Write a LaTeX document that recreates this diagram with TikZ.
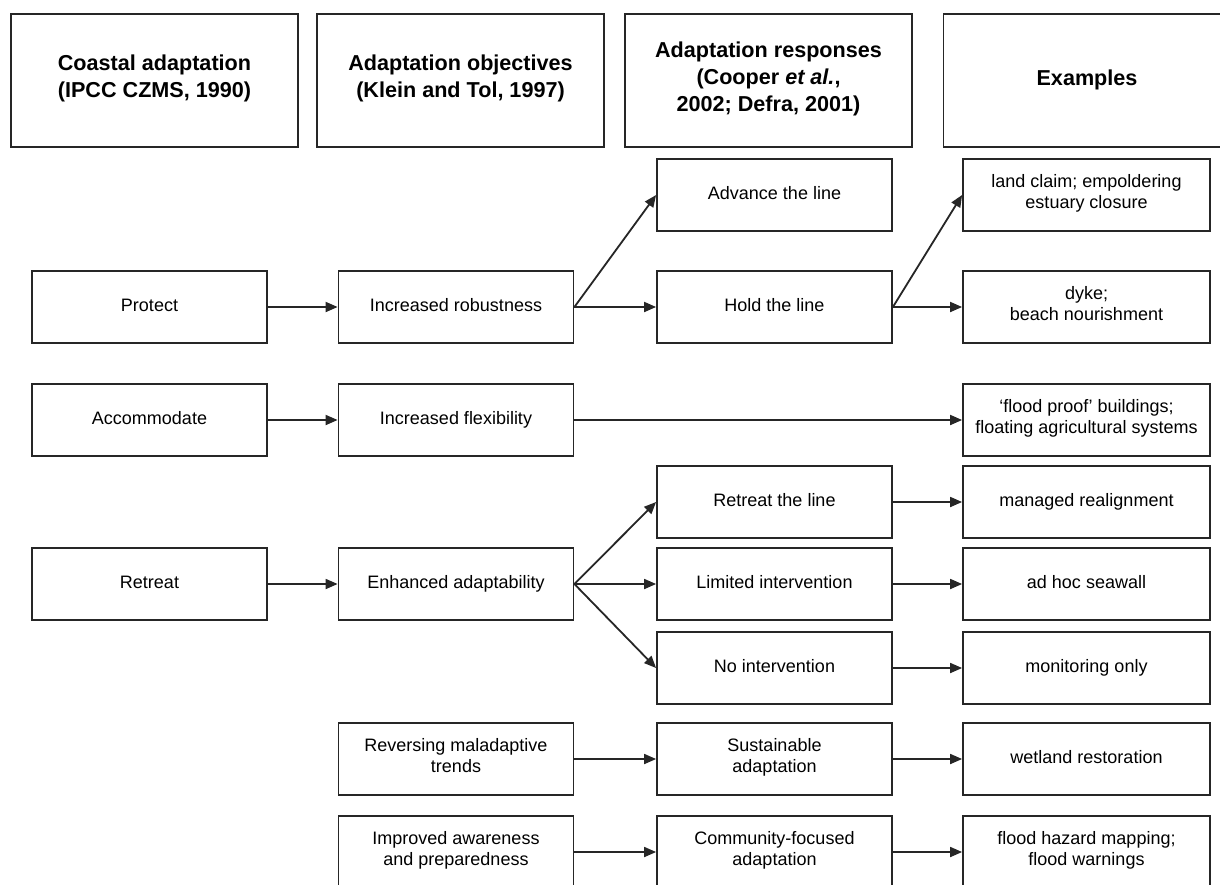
\documentclass[tikz,border=0pt]{standalone}
\usepackage{fontspec}
\setmainfont{Liberation Sans}
\usetikzlibrary{arrows.meta}
\tikzset{
  box/.style={draw=black!85, line width=0.9pt, minimum width=117.5pt, minimum height=36pt,
    align=center, inner sep=2pt, font=\fontsize{9}{10.5}\selectfont,
    execute at begin node=\strut, execute at end node=\strut},
  exbox/.style={box, minimum width=123.5pt},
  headbox/.style={box, minimum width=143.5pt, minimum height=66.5pt,
    font=\fontsize{10.8}{13.5}\selectfont\bfseries},
  flow/.style={-{Triangle[length=6pt,width=5pt]}, line width=0.9pt, black!85},
}
\newcommand{\bnode}[4][box]{\node [#1] (#2) at (#3) {#4}}

\begin{document}
\begin{tikzpicture}[x=0.5pt,y=-0.5pt]
\useasboundingbox (0,0) rectangle (1220,884);
\fill[white] (0,0) rectangle (1220,884);
\clip (0,0) rectangle (1220,884);

\bnode[headbox]{HCoast}{154.5,80.5}{Coastal adaptation\\(IPCC CZMS, 1990)};
\bnode[headbox]{HObj}{460.5,80.5}{Adaptation objectives\\(Klein and Tol, 1997)};
\bnode[headbox]{HResp}{768.5,80.5}{Adaptation responses\\(Cooper \textit{et al.},\\2002; Defra, 2001)};
\bnode[headbox]{HEx}{1087,80.5}{Examples};

\bnode{Protect}{149.5,307}{Protect};
\bnode{Accom}{149.5,420}{Accommodate};
\bnode{Retreat}{149.5,584}{Retreat};

\bnode{Robust}{456,307}{Increased robustness};
\bnode{Flex}{456,420}{Increased flexibility};
\bnode{Enhance}{456,584}{Enhanced adaptability};
\bnode{Reverse}{456,759}{Reversing maladaptive\\trends};
\bnode{Aware}{456,852}{Improved awareness\\and preparedness};

\bnode{Advance}{774.5,195}{Advance the line};
\bnode{Hold}{774.5,307}{Hold the line};
\bnode{RetLine}{774.5,502}{Retreat the line};
\bnode{Limited}{774.5,584}{Limited intervention};
\bnode{NoInt}{774.5,668}{No intervention};
\bnode{Sustain}{774.5,759}{Sustainable\\adaptation};
\bnode{Commun}{774.5,852}{Community-focused\\adaptation};

\bnode[exbox]{ExClaim}{1086.5,195}{land claim; empoldering\\estuary closure};
\bnode[exbox]{ExDyke}{1086.5,307}{dyke;\\beach nourishment};
\bnode[exbox]{ExFlood}{1086.5,420}{‘flood proof’ buildings;\\floating agricultural systems};
\bnode[exbox]{ExManage}{1086.5,502}{managed realignment};
\bnode[exbox]{ExSeawall}{1086.5,584}{ad hoc seawall};
\bnode[exbox]{ExMonitor}{1086.5,668}{monitoring only};
\bnode[exbox]{ExWetland}{1086.5,759}{wetland restoration};
\bnode[exbox]{ExHazard}{1086.5,852}{flood hazard mapping;\\flood warnings};

\draw[flow] (Protect.east) -- (Robust.west);
\draw[flow] (Robust.east) -- (Advance.west);
\draw[flow] (Robust.east) -- (Hold.west);
\draw[flow] (Hold.east) -- (ExClaim.west);
\draw[flow] (Hold.east) -- (ExDyke.west);

\draw[flow] (Accom.east) -- (Flex.west);
\draw[flow] (Flex.east) -- (ExFlood.west);

\draw[flow] (Retreat.east) -- (Enhance.west);
\draw[flow] (Enhance.east) -- (RetLine.west);
\draw[flow] (Enhance.east) -- (Limited.west);
\draw[flow] (Enhance.east) -- (NoInt.west);
\draw[flow] (RetLine.east) -- (ExManage.west);
\draw[flow] (Limited.east) -- (ExSeawall.west);
\draw[flow] (NoInt.east) -- (ExMonitor.west);

\draw[flow] (Reverse.east) -- (Sustain.west);
\draw[flow] (Sustain.east) -- (ExWetland.west);
\draw[flow] (Aware.east) -- (Commun.west);
\draw[flow] (Commun.east) -- (ExHazard.west);

\end{tikzpicture}
\end{document}
